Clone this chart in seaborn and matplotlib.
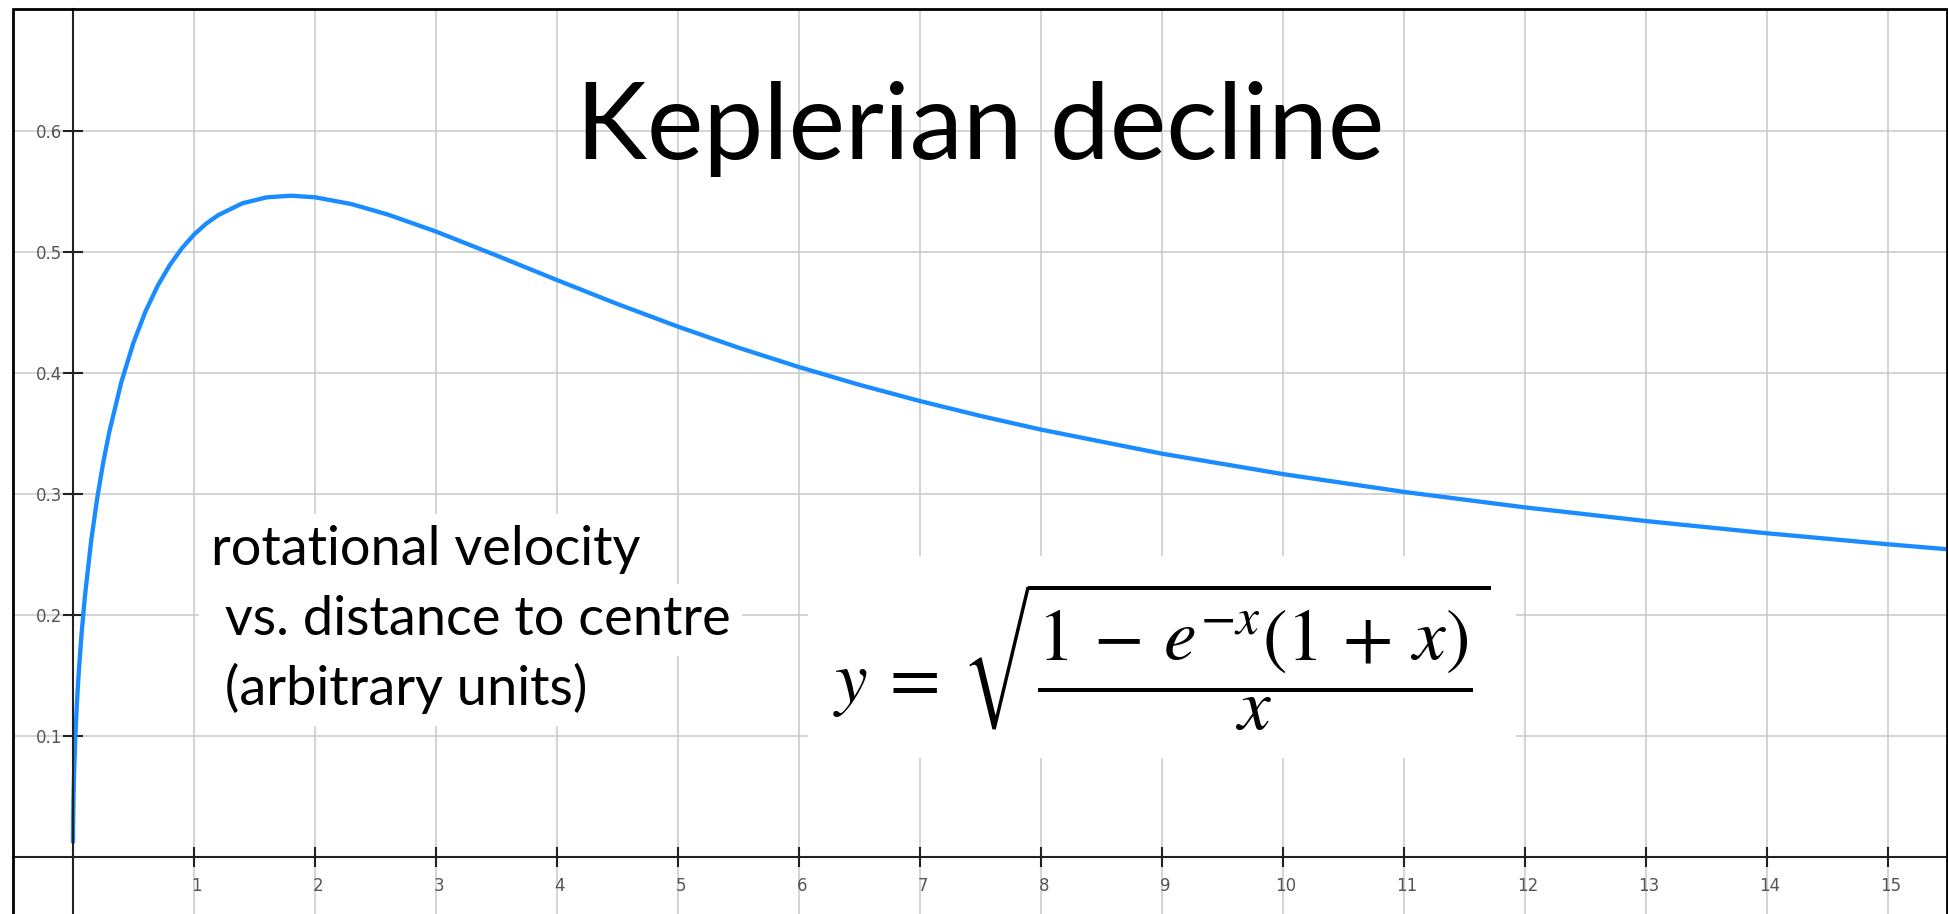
import matplotlib
matplotlib.use("Agg")
import matplotlib.pyplot as plt
import seaborn as sns
from matplotlib.patches import Rectangle
from matplotlib.transforms import ScaledTranslation

# Rotation curve samples: distance to centre vs. rotational velocity
radius = [0.0003, 0.001, 0.003, 0.005, 0.01, 0.02, 0.03, 0.04, 0.05, 0.07,
          0.1, 0.15, 0.2, 0.25, 0.3, 0.4, 0.5, 0.6, 0.7, 0.8, 0.9, 1.0,
          1.1, 1.2, 1.4, 1.6, 1.8, 2.0, 2.3, 2.6, 3.0, 3.5, 4.0, 4.5,
          5.0, 5.5, 6.0, 6.5, 7.0, 7.5, 8.0, 9.0, 10.0, 11.0, 12.0, 13.0,
          14.0, 15.0, 15.6]
velocity = [0.0122, 0.0224, 0.0387, 0.0499, 0.0705, 0.0993, 0.1213, 0.1396,
            0.1555, 0.1828, 0.2163, 0.2606, 0.2960, 0.3256, 0.3509, 0.3923,
            0.4248, 0.4507, 0.4718, 0.4889, 0.5028, 0.5141, 0.5231, 0.5302,
            0.5400, 0.5449, 0.5463, 0.5450, 0.5394, 0.5308, 0.5167, 0.4969,
            0.4766, 0.4568, 0.4381, 0.4207, 0.4047, 0.3900, 0.3766, 0.3643,
            0.3530, 0.3331, 0.3162, 0.3015, 0.2887, 0.2774, 0.2673, 0.2582,
            0.2532]

x_ticks = list(range(1, 16))
x_tick_labels = [str(t) for t in x_ticks]
y_ticks = [0.1, 0.2, 0.3, 0.4, 0.5, 0.6]
y_tick_labels = ["0.1", "0.2", "0.3", "0.4", "0.5", "0.6"]

title_text = "Keplerian decline"
caption_lines = ["rotational velocity", " vs. distance to centre", " (arbitrary units)"]
formula_text = r"$y\:=\:\sqrt{\dfrac{1\,-\,e^{-x}(1\,+\,x)}{x}}$"

sns.set_theme(style="white")
plt.rcParams["font.family"] = ["DejaVu Sans"]
plt.rcParams["mathtext.fontset"] = "stix"

W, H = 1948, 914
fig = plt.figure(figsize=(W / 100, H / 100), dpi=100)
fig.patch.set_facecolor("white")

# axes frame: left edge at 12.7 px, top at 9 px, bottom hangs just below the figure
ax = fig.add_axes([12.7 / W, -0.02, (1947 - 12.7) / W, 1 - 9 / H + 0.02])
ax.set_facecolor("white")
ax.set_xlim(-0.498, 15.49)
ax.set_ylim(-0.0625, 0.7006)

ax.set_xticks(x_ticks)
ax.set_xticklabels(x_tick_labels)
ax.set_yticks(y_ticks)
ax.set_yticklabels(y_tick_labels)

ax.grid(True, color="#c9c9c9", lw=1.1)
ax.set_axisbelow(True)

# axis lines through the origin
for side in ("left", "bottom"):
    ax.spines[side].set_position(("data", 0))
    ax.spines[side].set_color("#222222")
    ax.spines[side].set_linewidth(1.5)
    ax.spines[side].set_zorder(3)
for side in ("top", "right"):
    ax.spines[side].set_visible(False)

ax.tick_params(axis="both", which="both", direction="inout", length=14,
               width=1.5, color="#222222", labelsize=12, labelcolor="#555555")
ax.tick_params(axis="x", pad=8, bottom=True)
ax.tick_params(axis="y", pad=1, left=True)

# x tick labels sit a little to the right of their ticks
shift = ScaledTranslation(3 / 100, 0, fig.dpi_scale_trans)
for lab in ax.get_xticklabels():
    lab.set_transform(lab.get_transform() + shift)

# outer frame
ax.add_patch(Rectangle((0, 0), 1, 1, transform=ax.transAxes, fill=False,
                       ec="black", lw=2, clip_on=False, zorder=6))

sns.lineplot(x=radius, y=velocity, ax=ax, color="#1A8CFF", lw=3.1,
             estimator=None, zorder=2)
ax.set_xlabel("")
ax.set_ylabel("")

ax.text(7.5, 0.5766, title_text, ha="center", va="baseline", fontsize=77,
        family=["Lato", "DejaVu Sans"], color="black", zorder=4)

for i, line in enumerate(caption_lines):
    ax.text(1.14, 0.2411 - i * 0.0580, line, ha="left", va="baseline",
            fontsize=39, family=["Lato", "DejaVu Sans"], color="black",
            zorder=4, bbox=dict(facecolor="white", edgecolor="none", pad=8))

ax.text(9.0, 0.165, formula_text, ha="center", va="center", fontsize=53,
        color="black", zorder=4,
        bbox=dict(facecolor="white", edgecolor="none", pad=18))

fig.savefig("out.png", dpi=100, facecolor="white")
